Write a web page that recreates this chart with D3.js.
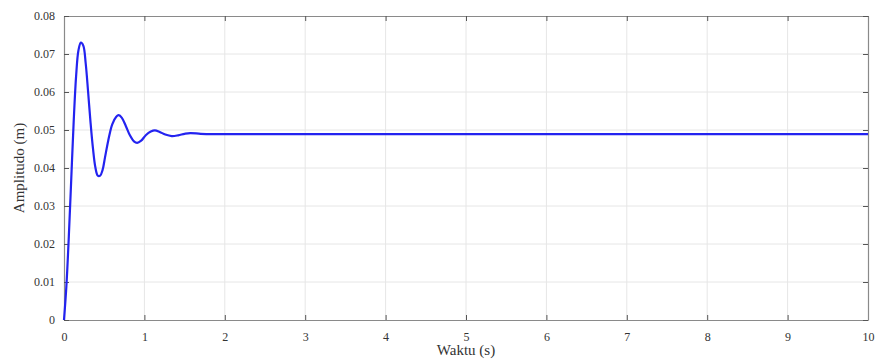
<!DOCTYPE html>
<html>
<head>
<meta charset="utf-8">
<script src="https://cdn.jsdelivr.net/npm/d3@7"></script>
<style>
  html, body { margin: 0; padding: 0; background: #fff; }
  svg { display: block; }
  text { font-family: "Liberation Serif", "DejaVu Serif", serif; fill: #333; }
</style>
</head>
<body>
<svg id="chart" width="875" height="360"></svg>
<script>
// Step response of the displacement, sampled in seconds
const timeValues = [0, 0.03, 0.06, 0.09, 0.12, 0.15, 0.18, 0.21, 0.24, 0.27, 0.30, 0.33, 0.36, 0.39, 0.42, 0.45, 0.48, 0.51, 0.55, 0.60, 0.65, 0.68, 0.72, 0.77, 0.82, 0.87, 0.91, 0.96, 1.02, 1.08, 1.13, 1.19, 1.26, 1.34, 1.42, 1.50, 1.57, 1.70, 1.85, 2.0, 3.0, 4.0, 5.0, 6.0, 7.0, 8.0, 9.0, 10.0];
const amplitudeValues = [0, 0.009, 0.022, 0.037, 0.052, 0.064, 0.071, 0.073, 0.0722, 0.0675, 0.060, 0.052, 0.0452, 0.0402, 0.0380, 0.0380, 0.0395, 0.0428, 0.0472, 0.0515, 0.0535, 0.0539, 0.0532, 0.0510, 0.0486, 0.0470, 0.0466, 0.0472, 0.0487, 0.0496, 0.0499, 0.0495, 0.0488, 0.0484, 0.0486, 0.0490, 0.0492, 0.0490, 0.0489, 0.0489, 0.0489, 0.0489, 0.0489, 0.0489, 0.0489, 0.0489, 0.0489, 0.0489];
const xTicks = [0, 1, 2, 3, 4, 5, 6, 7, 8, 9, 10];
const yTicks = [0, 0.01, 0.02, 0.03, 0.04, 0.05, 0.06, 0.07, 0.08];
const xTitle = "Waktu (s)";
const yTitle = "Amplitudo (m)";

const svg = d3.select("#chart");
const m = { left: 64, right: 7, top: 16, bottom: 40 };
const W = 875, H = 360;
const x = d3.scaleLinear().domain([0, 10]).range([m.left, W - m.right]);
const y = d3.scaleLinear().domain([0, 0.08]).range([H - m.bottom, m.top]);

// grid
const grid = svg.append("g");
grid.selectAll(".gx").data(xTicks.slice(1, -1)).join("line")
  .attr("x1", d => x(d)).attr("x2", d => x(d))
  .attr("y1", y(0)).attr("y2", y(0.08))
  .attr("stroke", "#e6e6e6").attr("stroke-width", 1);
grid.selectAll(".gy").data(yTicks.slice(1, -1)).join("line")
  .attr("x1", x(0)).attr("x2", x(10))
  .attr("y1", d => y(d)).attr("y2", d => y(d))
  .attr("stroke", "#e6e6e6").attr("stroke-width", 1);

// axes with inward ticks on all four sides
const fmtY = d => d === 0 ? "0" : d3.format(".2f")(d);
const axB = svg.append("g").attr("transform", `translate(0,${y(0)})`)
  .call(d3.axisBottom(x).tickValues(xTicks).tickSizeInner(-5).tickSizeOuter(0).tickPadding(12).tickFormat(d3.format("d")));
const axT = svg.append("g").attr("transform", `translate(0,${y(0.08)})`)
  .call(d3.axisTop(x).tickValues(xTicks).tickSizeInner(-5).tickSizeOuter(0).tickFormat(""));
const axL = svg.append("g").attr("transform", `translate(${x(0)},0)`)
  .call(d3.axisLeft(y).tickValues(yTicks).tickSizeInner(-5).tickSizeOuter(0).tickPadding(9).tickFormat(fmtY));
const axR = svg.append("g").attr("transform", `translate(${x(10)},0)`)
  .call(d3.axisRight(y).tickValues(yTicks).tickSizeInner(-5).tickSizeOuter(0).tickFormat(""));
[axB, axT, axL, axR].forEach(a => {
  a.select(".domain").attr("stroke", "#8a8a8a").attr("stroke-width", 1.2);
  a.selectAll(".tick line").attr("stroke", "#555");
  a.selectAll("text").attr("font-family", "Liberation Serif, DejaVu Serif, serif")
    .attr("font-size", 12).attr("fill", "#333");
});

// response curve
const pts = timeValues.map((t, i) => [t, amplitudeValues[i]]);
svg.append("path")
  .datum(pts)
  .attr("fill", "none")
  .attr("stroke", "#2323f0")
  .attr("stroke-width", 2.2)
  .attr("stroke-linejoin", "round")
  .attr("d", d3.line().x(d => x(d[0])).y(d => y(d[1])).curve(d3.curveCatmullRom.alpha(0.5)));

// titles
svg.append("text").attr("x", (x(0) + x(10)) / 2).attr("y", 355)
  .attr("text-anchor", "middle").attr("font-size", 15).text(xTitle);
svg.append("text").attr("transform", `translate(24,${(y(0) + y(0.08)) / 2}) rotate(-90)`)
  .attr("text-anchor", "middle").attr("font-size", 15).text(yTitle);
</script>
</body>
</html>
